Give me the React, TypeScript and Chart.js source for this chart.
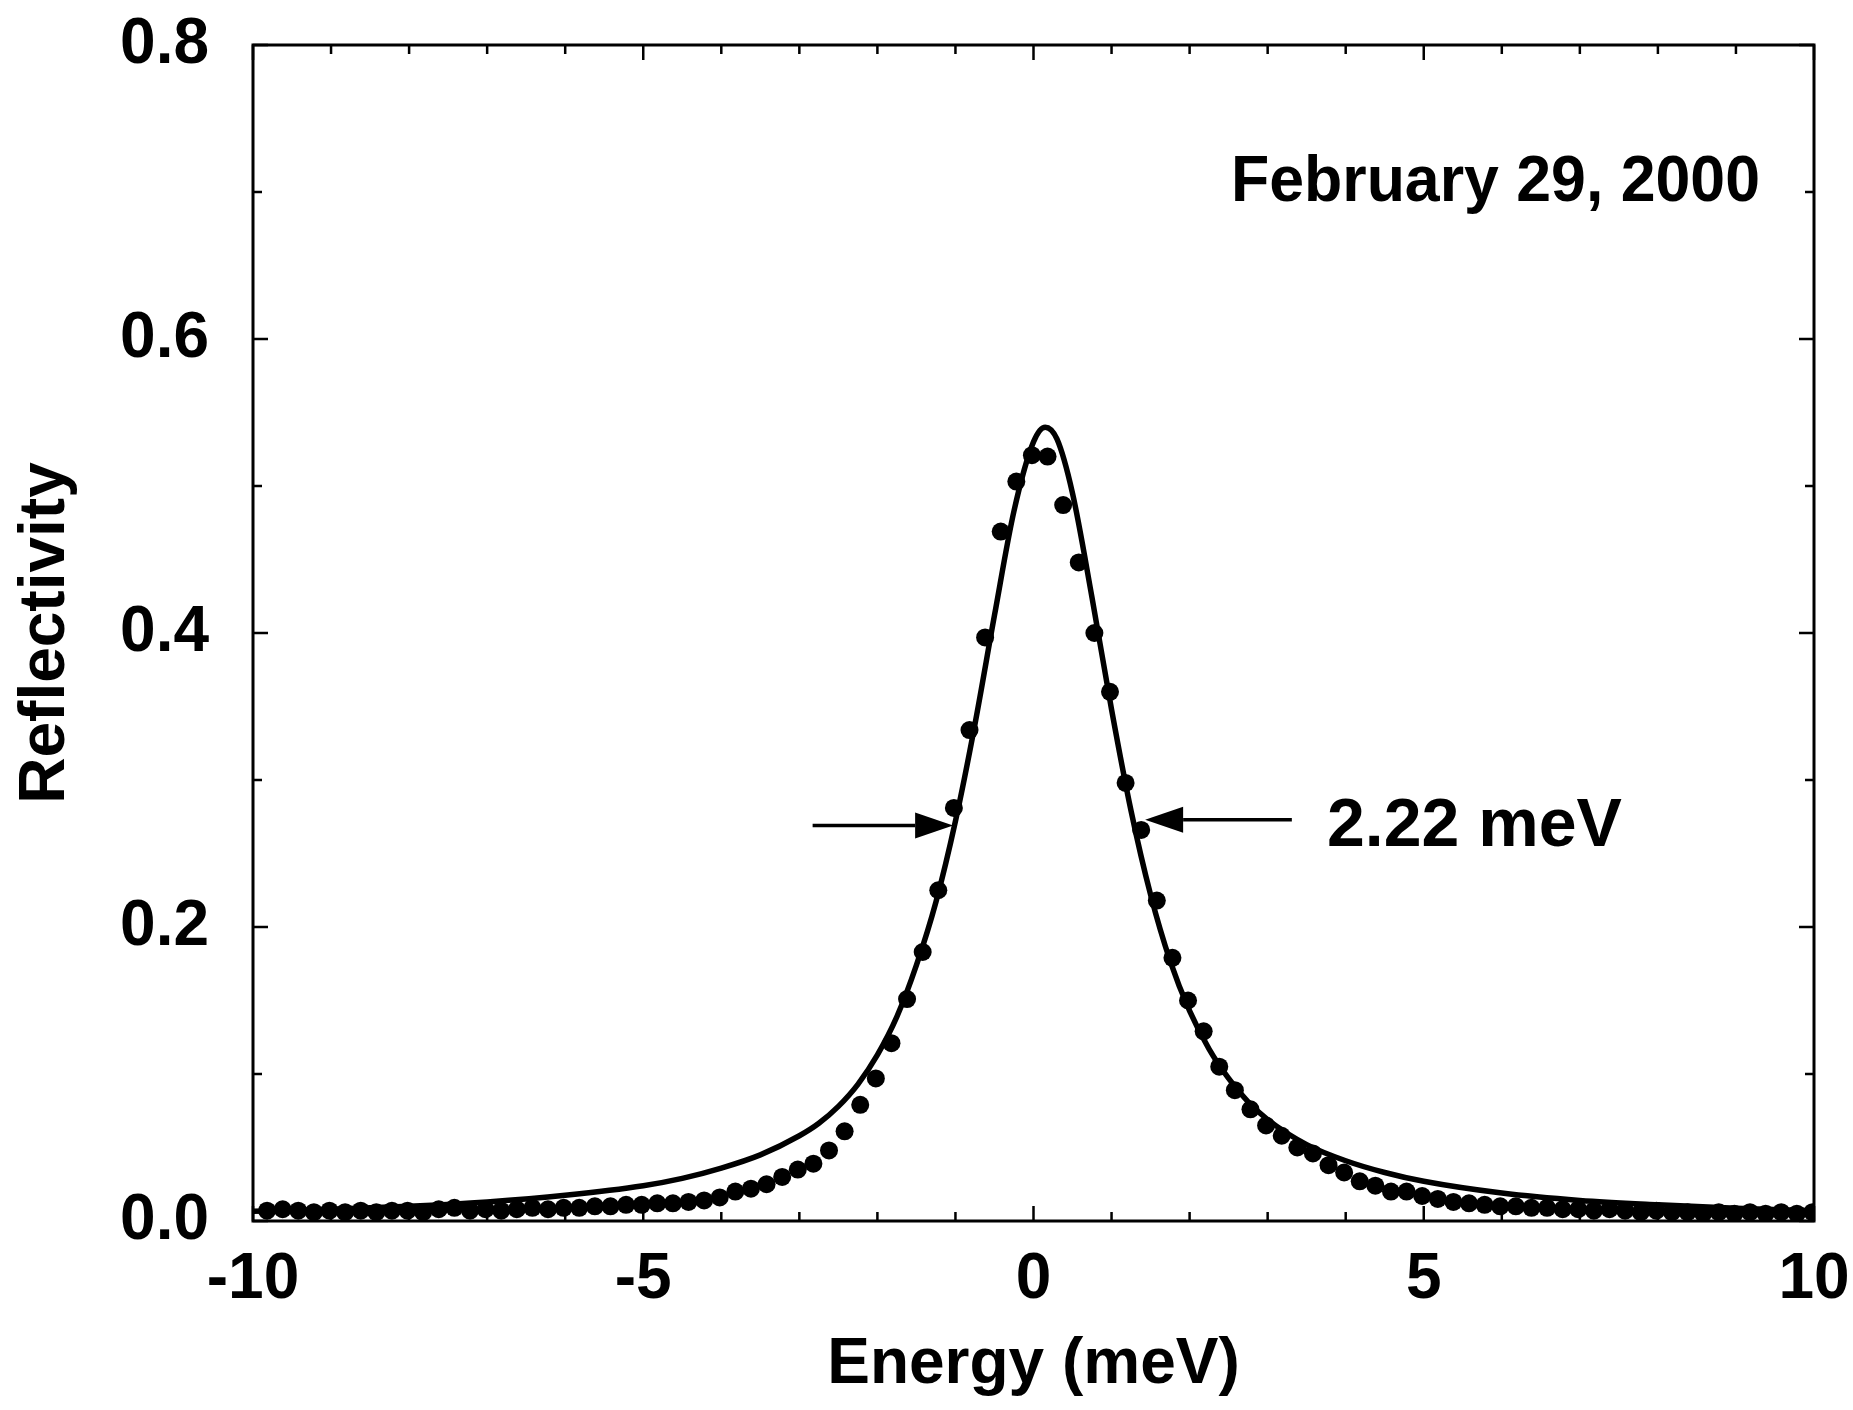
import React, { useEffect, useRef } from "react";
import { Chart, registerables } from "chart.js";

Chart.register(...registerables);

// ---- data ----
const dotEnergy = [
  -9.82, -9.62, -9.42, -9.22, -9.02, -8.82, -8.62, -8.42, -8.22, -8.02,
  -7.82, -7.62, -7.42, -7.22, -7.02, -6.82, -6.62, -6.42, -6.22, -6.02,
  -5.82, -5.62, -5.42, -5.22, -5.02, -4.82, -4.62, -4.42, -4.22, -4.02,
  -3.82, -3.62, -3.42, -3.22, -3.02, -2.82, -2.62, -2.42, -2.22, -2.02,
  -1.82, -1.62, -1.42, -1.22, -1.02, -0.82, -0.62, -0.42, -0.22, -0.02,
  0.18, 0.38, 0.58, 0.78, 0.98, 1.18, 1.38, 1.58, 1.78, 1.98,
  2.18, 2.38, 2.58, 2.78, 2.98, 3.18, 3.38, 3.58, 3.78, 3.98,
  4.18, 4.38, 4.58, 4.78, 4.98, 5.18, 5.38, 5.58, 5.78, 5.98,
  6.18, 6.38, 6.58, 6.78, 6.98, 7.18, 7.38, 7.58, 7.78, 7.98,
  8.18, 8.38, 8.58, 8.78, 8.98, 9.18, 9.38, 9.58, 9.78, 9.98,
];
const dotReflectivity = [
  0.007, 0.008, 0.007, 0.006, 0.007, 0.006, 0.007, 0.006, 0.007, 0.007,
  0.006, 0.008, 0.009, 0.007, 0.008, 0.007, 0.008, 0.009, 0.008, 0.009,
  0.009, 0.010, 0.010, 0.011, 0.011, 0.012, 0.012, 0.013, 0.014, 0.016,
  0.020, 0.022, 0.025, 0.030, 0.035, 0.039, 0.048, 0.061, 0.079, 0.097,
  0.121, 0.151, 0.183, 0.225, 0.281, 0.334, 0.397, 0.469, 0.503, 0.521,
  0.520, 0.487, 0.448, 0.400, 0.360, 0.298, 0.266, 0.218, 0.179, 0.150,
  0.129, 0.105, 0.089, 0.076, 0.065, 0.058, 0.050, 0.046, 0.038, 0.033,
  0.027, 0.024, 0.020, 0.020, 0.017, 0.015, 0.013, 0.012, 0.011, 0.010,
  0.010, 0.009, 0.009, 0.008, 0.008, 0.007, 0.008, 0.007, 0.006, 0.007,
  0.006, 0.006, 0.005, 0.006, 0.005, 0.006, 0.005, 0.006, 0.005, 0.006,
];
const fitEnergy = [
  -10, -9, -8, -7, -6, -5, -4.5, -4, -3.5, -3, -2.75, -2.5, -2.25, -2, -1.75,
  -1.5, -1.25, -1, -0.75, -0.5, -0.25, 0, 0.15, 0.3, 0.5, 0.75, 1, 1.25, 1.5,
  1.75, 2, 2.25, 2.5, 2.75, 3, 3.5, 4, 4.5, 5, 6, 7, 8, 9, 10,
];
const fitReflectivity = [
  0.0066, 0.008, 0.01, 0.013, 0.0175, 0.024, 0.029, 0.036, 0.045, 0.058, 0.0665,
  0.078, 0.093, 0.113, 0.139, 0.174, 0.217, 0.272, 0.338, 0.412, 0.483, 0.53,
  0.54, 0.532, 0.495, 0.424, 0.348, 0.279, 0.222, 0.177, 0.143, 0.117, 0.097,
  0.081, 0.069, 0.052, 0.041, 0.033, 0.027, 0.019, 0.014, 0.011, 0.0087, 0.007,
];

const xMajorTicks = [-10, -5, 0, 5, 10];
const xTickLabels = ["-10", "-5", "0", "5", "10"];
const xMinorTicks = [-9, -8, -7, -6, -4, -3, -2, -1, 1, 2, 3, 4, 6, 7, 8, 9];
const yMajorTicks = [0, 0.2, 0.4, 0.6, 0.8];
const yTickLabels = ["0.0", "0.2", "0.4", "0.6", "0.8"];
const yMinorTicks = [0.1, 0.3, 0.5, 0.7];

const xTitle = "Energy (meV)";
const yTitle = "Reflectivity";
const dateText = "February 29, 2000";
const widthText = "2.22 meV";
// arrows marking the FWHM: [x, y] tail -> tip, in data units
const leftArrow = [[-2.83, 0.269], [-1.03, 0.269]];
const rightArrow = [[3.31, 0.273], [1.43, 0.273]];
// annotation anchors (data units): left edge, baseline
const dateAnchor = [2.53, 0.694];
const widthAnchor = [3.76, 0.255];

const FONT = "'Liberation Sans', Arial, Helvetica, sans-serif";

const overlayPlugin = {
  id: "overlay",
  beforeDraw(chart: any) {
    const { ctx, width, height } = chart;
    ctx.save();
    ctx.fillStyle = "#fff";
    ctx.fillRect(0, 0, width, height);
    ctx.restore();
  },
  afterDatasetsDraw(chart: any) {
    const { ctx, chartArea: a, scales } = chart;
    const xs = scales.x;
    const ys = scales.y;
    ctx.save();
    ctx.strokeStyle = "#000";
    ctx.fillStyle = "#000";
    ctx.lineWidth = 3;
    ctx.strokeRect(a.left, a.top, a.right - a.left, a.bottom - a.top);

    ctx.lineWidth = 2.5;
    const vTick = (v: number, len: number) => {
      const px = xs.getPixelForValue(v);
      ctx.beginPath();
      ctx.moveTo(px, a.bottom);
      ctx.lineTo(px, a.bottom - len);
      ctx.moveTo(px, a.top);
      ctx.lineTo(px, a.top + len);
      ctx.stroke();
    };
    const hTick = (v: number, len: number) => {
      const py = ys.getPixelForValue(v);
      ctx.beginPath();
      ctx.moveTo(a.left, py);
      ctx.lineTo(a.left + len, py);
      ctx.moveTo(a.right, py);
      ctx.lineTo(a.right - len, py);
      ctx.stroke();
    };
    xMajorTicks.forEach((v) => vTick(v, 15));
    xMinorTicks.forEach((v) => vTick(v, 9));
    yMajorTicks.forEach((v) => hTick(v, 15));
    yMinorTicks.forEach((v) => hTick(v, 9));

    // arrows
    const arrow = (seg: number[][]) => {
      const x0 = xs.getPixelForValue(seg[0][0]);
      const y0 = ys.getPixelForValue(seg[0][1]);
      const x1 = xs.getPixelForValue(seg[1][0]);
      const y1 = ys.getPixelForValue(seg[1][1]);
      const dir = Math.sign(x1 - x0);
      const headLen = 38;
      const headHalf = 13;
      ctx.lineWidth = 3.5;
      ctx.beginPath();
      ctx.moveTo(x0, y0);
      ctx.lineTo(x1 - dir * headLen, y1);
      ctx.stroke();
      ctx.beginPath();
      ctx.moveTo(x1, y1);
      ctx.lineTo(x1 - dir * headLen, y1 - headHalf);
      ctx.lineTo(x1 - dir * headLen, y1 + headHalf);
      ctx.closePath();
      ctx.fill();
    };
    arrow(leftArrow);
    arrow(rightArrow);

    // annotations
    ctx.textAlign = "left";
    ctx.textBaseline = "alphabetic";
    ctx.font = `bold 68px ${FONT}`;
    ctx.fillText(
      widthText,
      xs.getPixelForValue(widthAnchor[0]),
      ys.getPixelForValue(widthAnchor[1])
    );

    ctx.font = `bold 64px ${FONT}`;
    const targetW = 529;
    const w = ctx.measureText(dateText).width;
    const dx = xs.getPixelForValue(dateAnchor[0]);
    const dy = ys.getPixelForValue(dateAnchor[1]);
    ctx.translate(dx, dy);
    ctx.scale(targetW / w, 1);
    ctx.fillText(dateText, 0, 0);
    ctx.restore();
  },
};

function findLabel(v: number, ticks: number[], labels: string[]) {
  for (let i = 0; i < ticks.length; i++) {
    if (Math.abs(ticks[i] - v) < 1e-9) return labels[i];
  }
  return "";
}

export default function App() {
  const canvasRef = useRef<HTMLCanvasElement | null>(null);

  useEffect(() => {
    document.body.style.margin = "0";
    const canvas = canvasRef.current;
    if (!canvas) return;
    const fitData = fitEnergy.map((x, i) => ({ x, y: fitReflectivity[i] }));
    const dotData = dotEnergy.map((x, i) => ({ x, y: dotReflectivity[i] }));
    const tickFont = { family: FONT, size: 64, weight: "bold" as const };
    const chart = new Chart(canvas, {
      type: "scatter",
      data: {
        datasets: [
          {
            type: "line",
            label: "fit",
            data: fitData,
            borderColor: "#000",
            borderWidth: 5.5,
            pointRadius: 0,
            fill: false,
            cubicInterpolationMode: "monotone",
            showLine: true,
            order: 2,
          } as any,
          {
            label: "data",
            data: dotData,
            backgroundColor: "#000",
            borderColor: "#000",
            borderWidth: 0,
            pointRadius: 9,
            pointHoverRadius: 9,
            showLine: false,
            order: 1,
          },
        ],
      },
      options: {
        animation: false,
        responsive: false,
        maintainAspectRatio: false,
        devicePixelRatio: 1,
        layout: { padding: { left: 0, top: 45, right: 39, bottom: 0 } },
        plugins: {
          legend: { display: false },
          tooltip: { enabled: false },
          title: { display: false },
        },
        scales: {
          x: {
            type: "linear",
            min: -10,
            max: 10,
            grid: { display: false, drawTicks: false },
            border: { display: false },
            ticks: {
              stepSize: 5,
              autoSkip: false,
              maxRotation: 0,
              padding: 21,
              color: "#000",
              font: tickFont,
              callback: (v: any) => findLabel(Number(v), xMajorTicks, xTickLabels),
            },
            title: {
              display: true,
              text: xTitle,
              color: "#000",
              font: tickFont,
              padding: { top: 0, bottom: 6 },
            },
            afterFit: (s: any) => {
              s.height = 189;
              s.paddingLeft = 0;
              s.paddingRight = 0;
              s.paddingTop = 0;
              s.paddingBottom = 0;
            },
          },
          y: {
            type: "linear",
            min: 0,
            max: 0.8,
            grid: { display: false, drawTicks: false },
            border: { display: false },
            ticks: {
              stepSize: 0.2,
              autoSkip: false,
              padding: 44,
              color: "#000",
              font: tickFont,
              callback: (v: any) => findLabel(Number(v), yMajorTicks, yTickLabels),
            },
            title: {
              display: true,
              text: yTitle,
              color: "#000",
              font: tickFont,
              padding: { top: 8, bottom: 0 },
            },
            afterFit: (s: any) => {
              s.width = 253;
              s.paddingLeft = 0;
              s.paddingRight = 0;
              s.paddingTop = 0;
              s.paddingBottom = 0;
            },
          },
        },
      },
      plugins: [overlayPlugin],
    });
    return () => chart.destroy();
  }, []);

  return (
    <div style={{ position: "absolute", left: 0, top: 0, width: 1853, height: 1410 }}>
      <canvas ref={canvasRef} width={1853} height={1410} style={{ display: "block" }} />
    </div>
  );
}
